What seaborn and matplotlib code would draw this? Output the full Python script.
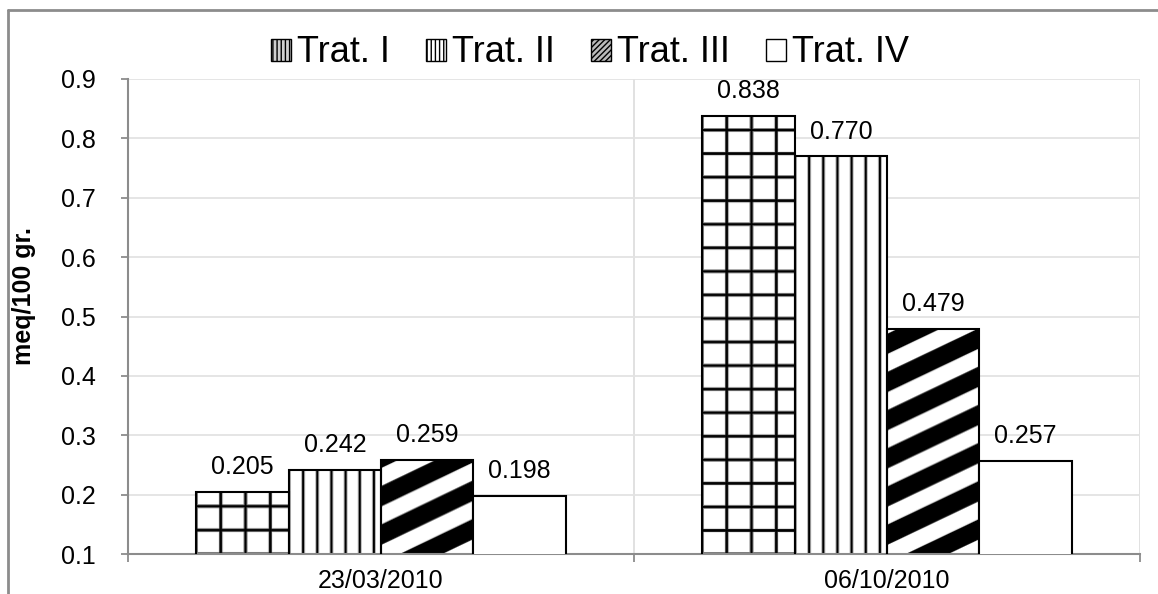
import numpy as np
import pandas as pd
import matplotlib
matplotlib.use("Agg")
import matplotlib.pyplot as plt
from matplotlib.patches import Patch
from matplotlib.lines import Line2D
import seaborn as sns

# ---- data ----
dates = ["23/03/2010", "06/10/2010"]
treatments = ["Trat. I", "Trat. II", "Trat. III", "Trat. IV"]
trat_1 = [0.205, 0.838]
trat_2 = [0.242, 0.770]
trat_3 = [0.259, 0.479]
trat_4 = [0.198, 0.257]
y_ticks = [0.1, 0.2, 0.3, 0.4, 0.5, 0.6, 0.7, 0.8, 0.9]
y_label = "meq/100 gr."

series = [trat_1, trat_2, trat_3, trat_4]
df = pd.DataFrame(
    [(d, t, v) for t, vals in zip(treatments, series) for d, v in zip(dates, vals)],
    columns=["fecha", "tratamiento", "valor"],
)

sns.set_theme(style="white")
plt.rcParams["font.family"] = ["Liberation Sans", "DejaVu Sans"]
plt.rcParams["text.color"] = "black"
plt.rcParams["axes.labelcolor"] = "black"

DPI = 100
fig = plt.figure(figsize=(11.58, 5.94), dpi=DPI)
W, H = 1158, 594
ax = fig.add_axes([128 / W, 1 - 554 / H, (1140 - 128) / W, (554 - 79) / H])

sns.barplot(
    data=df, x="fecha", y="valor", hue="tratamiento",
    order=dates, hue_order=treatments,
    palette=["white"] * 4, saturation=1, width=0.73,
    edgecolor="black", linewidth=1.5, legend=False, ax=ax, zorder=3,
)

ax.set_ylim(y_ticks[0], y_ticks[-1])
ax.set_xlim(-0.5, len(dates) - 0.5)
ax.set_yticks(y_ticks)
ax.set_yticklabels([f"{t:.1f}" for t in y_ticks])

# grid lines
ax.set_axisbelow(True)
ax.yaxis.grid(True, color="#e3e3e3", linewidth=1.3, zorder=0)
ax.set_xticks(np.arange(-0.5, len(dates)), minor=True)
ax.xaxis.grid(True, which="minor", color="#dedede", linewidth=1.3, zorder=0)
ax.xaxis.grid(False, which="major")

# spines and ticks
for side in ["top", "right"]:
    ax.spines[side].set_visible(False)
for side in ["left", "bottom"]:
    ax.spines[side].set_color("#8c8c8c")
    ax.spines[side].set_linewidth(1.5)
ax.tick_params(axis="y", which="major", left=True, length=5, width=1.3,
               color="#8c8c8c", pad=18, labelsize=18, labelcolor="black")
ax.tick_params(axis="x", which="major", bottom=False, length=0, pad=11,
               labelsize=18, labelcolor="black")
ax.tick_params(axis="x", which="minor", bottom=True, length=6, width=1.3,
               color="#8c8c8c")
ax.set_xlabel("")
ax.set_ylabel(y_label, fontsize=18, fontweight="bold", color="black")
ax.yaxis.set_label_coords(-(128 - 36) / (1140 - 128), (554 - 296) / (554 - 79))


# ---- fill textures, computed per display pixel and clipped to each bar ----
def grid_tex(px, py):
    d1 = np.abs(((px + 12) % 24.5) - 12)
    d2 = np.abs(((py + 11.75) % 23.5) - 11.75)
    d = np.minimum(d1, d2)
    return np.clip((d - 0.9) / 1.2, 0, 1)


def vert_tex(px, py):
    d = np.abs(((px + 7) % 14) - 7)
    return np.clip((d - 0.8) / 1.0, 0, 1)


def stripe_tex(px, py):
    period = 38.0
    phase = ((py - 0.48 * px) % period) / period
    d = np.abs(phase - 0.5) * period  # distance from stripe centre
    return np.clip((d - 9.5) / 1.2, 0, 1)


textures = [grid_tex, vert_tex, stripe_tex, None]

for container, tex in zip(ax.containers, textures):
    for bar in container:
        if tex is None:
            continue
        x0 = bar.get_x()
        x1 = x0 + bar.get_width()
        y0 = max(bar.get_y(), ax.get_ylim()[0])
        y1 = bar.get_y() + bar.get_height()
        (dx0, dy0), (dx1, dy1) = ax.transData.transform([(x0, y0), (x1, y1)])
        nx = max(int(round(dx1 - dx0)), 1)
        ny = max(int(round(dy1 - dy0)), 1)
        px, py = np.meshgrid(np.arange(nx) + 0.5, np.arange(ny) + 0.5)
        img = tex(px, py)
        im = ax.imshow(img, cmap="gray", vmin=0, vmax=1, origin="lower",
                       extent=(x0, x1, y0, y1), aspect="auto",
                       interpolation="bilinear", zorder=2.5)
        im.set_clip_path(bar)
        bar.set_facecolor("none")

ax.set_xlim(-0.5, len(dates) - 0.5)
ax.set_ylim(y_ticks[0], y_ticks[-1])

# value labels
for container in ax.containers:
    ax.bar_label(container, fmt="%.3f", padding=9, fontsize=18, color="black", zorder=5)

# legend
handles = [
    Patch(facecolor="#d0d0d0", edgecolor="black", hatch="||||", linewidth=1),
    Patch(facecolor="white", edgecolor="black", hatch="||||", linewidth=1),
    Patch(facecolor="#bbbbbb", edgecolor="black", hatch="//////", linewidth=1),
    Patch(facecolor="white", edgecolor="black", linewidth=1),
]
fig.legend(handles, treatments, loc="center", bbox_to_anchor=(590 / W, 1 - 53 / H),
           ncol=4, frameon=False, fontsize=26, handlelength=0.55, handleheight=0.55,
           handletextpad=0.17, columnspacing=1.0, borderaxespad=0, borderpad=0,
           labelcolor="black")

# outer chart border
fig.add_artist(Line2D([8 / W, 8 / W], [0, 1 - 10 / H], transform=fig.transFigure,
                      color="#8c8c8c", linewidth=2))
fig.add_artist(Line2D([8 / W, 1], [1 - 10 / H, 1 - 10 / H], transform=fig.transFigure,
                      color="#8c8c8c", linewidth=2))

fig.savefig("out.png", dpi=DPI)
